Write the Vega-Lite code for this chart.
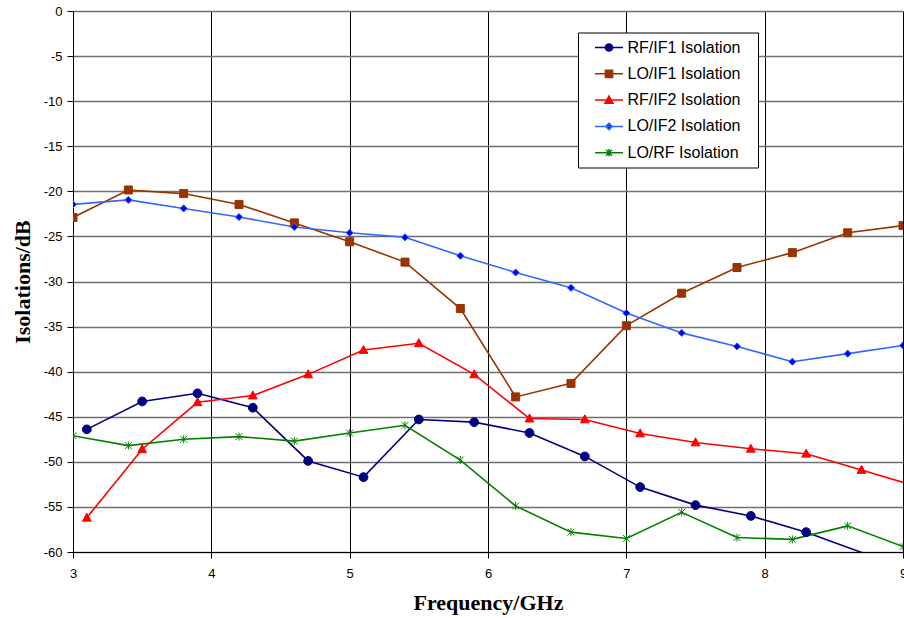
{
  "$schema": "https://vega.github.io/schema/vega-lite/v6.json",
  "width": 830,
  "height": 541,
  "autosize": {"type": "none"},
  "padding": {"left": 73, "top": 11, "right": 1, "bottom": 66},
  "background": "white",
  "config": {
    "view": {"stroke": null},
    "axis": {
      "domainColor": "black",
      "domainWidth": 1,
      "tickColor": "black",
      "tickSize": 6,
      "labelFont": "Liberation Sans",
      "labelFontSize": 13,
      "labelColor": "black",
      "titleFont": "Liberation Serif",
      "titleFontWeight": "bold",
      "titleFontSize": 22,
      "titleColor": "black"
    },
    "legend": {
      "orient": "none",
      "legendX": 505,
      "legendY": 21.5,
      "padding": 6,
      "strokeColor": "black",
      "fillColor": "white",
      "symbolSize": 256,
      "symbolStrokeWidth": 1.5,
      "symbolOpacity": 1,
      "labelFont": "Liberation Sans",
      "labelFontSize": 16,
      "labelColor": "black",
      "labelOffset": 25.5,
      "rowPadding": 9.3,
      "titleOrient": "right",
      "titlePadding": 9,
      "titleFontSize": 8,
      "titleColor": "white",
      "titleBaseline": "top"
    }
  },
  "data": {
    "values": [
      {"series": "RF/IF1 Isolation", "f": 3.1, "iso": -46.4},
      {"series": "RF/IF1 Isolation", "f": 3.5, "iso": -43.3},
      {"series": "RF/IF1 Isolation", "f": 3.9, "iso": -42.4},
      {"series": "RF/IF1 Isolation", "f": 4.3, "iso": -44.0},
      {"series": "RF/IF1 Isolation", "f": 4.7, "iso": -49.9},
      {"series": "RF/IF1 Isolation", "f": 5.1, "iso": -51.7},
      {"series": "RF/IF1 Isolation", "f": 5.5, "iso": -45.3},
      {"series": "RF/IF1 Isolation", "f": 5.9, "iso": -45.6},
      {"series": "RF/IF1 Isolation", "f": 6.3, "iso": -46.8},
      {"series": "RF/IF1 Isolation", "f": 6.7, "iso": -49.4},
      {"series": "RF/IF1 Isolation", "f": 7.1, "iso": -52.8},
      {"series": "RF/IF1 Isolation", "f": 7.5, "iso": -54.8},
      {"series": "RF/IF1 Isolation", "f": 7.9, "iso": -56.0},
      {"series": "RF/IF1 Isolation", "f": 8.3, "iso": -57.8},
      {"series": "RF/IF1 Isolation", "f": 9.1, "iso": -62.3},
      {"series": "LO/IF1 Isolation", "f": 3.0, "iso": -22.9},
      {"series": "LO/IF1 Isolation", "f": 3.4, "iso": -19.85},
      {"series": "LO/IF1 Isolation", "f": 3.8, "iso": -20.25},
      {"series": "LO/IF1 Isolation", "f": 4.2, "iso": -21.45},
      {"series": "LO/IF1 Isolation", "f": 4.6, "iso": -23.5},
      {"series": "LO/IF1 Isolation", "f": 5.0, "iso": -25.6},
      {"series": "LO/IF1 Isolation", "f": 5.4, "iso": -27.85},
      {"series": "LO/IF1 Isolation", "f": 5.8, "iso": -33.0},
      {"series": "LO/IF1 Isolation", "f": 6.2, "iso": -42.8},
      {"series": "LO/IF1 Isolation", "f": 6.6, "iso": -41.3},
      {"series": "LO/IF1 Isolation", "f": 7.0, "iso": -34.9},
      {"series": "LO/IF1 Isolation", "f": 7.4, "iso": -31.3},
      {"series": "LO/IF1 Isolation", "f": 7.8, "iso": -28.45},
      {"series": "LO/IF1 Isolation", "f": 8.2, "iso": -26.8},
      {"series": "LO/IF1 Isolation", "f": 8.6, "iso": -24.6},
      {"series": "LO/IF1 Isolation", "f": 9.0, "iso": -23.8},
      {"series": "RF/IF2 Isolation", "f": 3.1, "iso": -56.2},
      {"series": "RF/IF2 Isolation", "f": 3.5, "iso": -48.6},
      {"series": "RF/IF2 Isolation", "f": 3.9, "iso": -43.4},
      {"series": "RF/IF2 Isolation", "f": 4.3, "iso": -42.65},
      {"series": "RF/IF2 Isolation", "f": 4.7, "iso": -40.3},
      {"series": "RF/IF2 Isolation", "f": 5.1, "iso": -37.6},
      {"series": "RF/IF2 Isolation", "f": 5.5, "iso": -36.85},
      {"series": "RF/IF2 Isolation", "f": 5.9, "iso": -40.3},
      {"series": "RF/IF2 Isolation", "f": 6.3, "iso": -45.2},
      {"series": "RF/IF2 Isolation", "f": 6.7, "iso": -45.3},
      {"series": "RF/IF2 Isolation", "f": 7.1, "iso": -46.85},
      {"series": "RF/IF2 Isolation", "f": 7.5, "iso": -47.85},
      {"series": "RF/IF2 Isolation", "f": 7.9, "iso": -48.55},
      {"series": "RF/IF2 Isolation", "f": 8.3, "iso": -49.1},
      {"series": "RF/IF2 Isolation", "f": 8.7, "iso": -50.9},
      {"series": "RF/IF2 Isolation", "f": 9.1, "iso": -52.75},
      {"series": "LO/IF2 Isolation", "f": 3.0, "iso": -21.45},
      {"series": "LO/IF2 Isolation", "f": 3.4, "iso": -20.95},
      {"series": "LO/IF2 Isolation", "f": 3.8, "iso": -21.9},
      {"series": "LO/IF2 Isolation", "f": 4.2, "iso": -22.85},
      {"series": "LO/IF2 Isolation", "f": 4.6, "iso": -23.95},
      {"series": "LO/IF2 Isolation", "f": 5.0, "iso": -24.6},
      {"series": "LO/IF2 Isolation", "f": 5.4, "iso": -25.1},
      {"series": "LO/IF2 Isolation", "f": 5.8, "iso": -27.15},
      {"series": "LO/IF2 Isolation", "f": 6.2, "iso": -29.0},
      {"series": "LO/IF2 Isolation", "f": 6.6, "iso": -30.7},
      {"series": "LO/IF2 Isolation", "f": 7.0, "iso": -33.5},
      {"series": "LO/IF2 Isolation", "f": 7.4, "iso": -35.7},
      {"series": "LO/IF2 Isolation", "f": 7.8, "iso": -37.2},
      {"series": "LO/IF2 Isolation", "f": 8.2, "iso": -38.9},
      {"series": "LO/IF2 Isolation", "f": 8.6, "iso": -38.0},
      {"series": "LO/IF2 Isolation", "f": 9.0, "iso": -37.1},
      {"series": "LO/RF Isolation", "f": 3.0, "iso": -47.1},
      {"series": "LO/RF Isolation", "f": 3.4, "iso": -48.2},
      {"series": "LO/RF Isolation", "f": 3.8, "iso": -47.5},
      {"series": "LO/RF Isolation", "f": 4.2, "iso": -47.2},
      {"series": "LO/RF Isolation", "f": 4.6, "iso": -47.7},
      {"series": "LO/RF Isolation", "f": 5.0, "iso": -46.8},
      {"series": "LO/RF Isolation", "f": 5.4, "iso": -45.95},
      {"series": "LO/RF Isolation", "f": 5.8, "iso": -49.8},
      {"series": "LO/RF Isolation", "f": 6.2, "iso": -54.9},
      {"series": "LO/RF Isolation", "f": 6.6, "iso": -57.8},
      {"series": "LO/RF Isolation", "f": 7.0, "iso": -58.5},
      {"series": "LO/RF Isolation", "f": 7.4, "iso": -55.6},
      {"series": "LO/RF Isolation", "f": 7.8, "iso": -58.4},
      {"series": "LO/RF Isolation", "f": 8.2, "iso": -58.6},
      {"series": "LO/RF Isolation", "f": 8.6, "iso": -57.1},
      {"series": "LO/RF Isolation", "f": 9.0, "iso": -59.4}
    ]
  },
  "encoding": {
    "x": {
      "field": "f",
      "type": "quantitative",
      "scale": {"domain": [3, 9], "nice": false, "zero": false},
      "axis": {
        "values": [3, 4, 5, 6, 7, 8, 9],
        "grid": true,
        "gridColor": "black",
        "gridWidth": 1,
        "labelPadding": 9,
        "labelFlush": false,
        "labelOverlap": false,
        "title": "Frequency/GHz",
        "titleX": 415,
        "titleY": 50,
        "titleBaseline": "middle",
        "titleAlign": "center"
      }
    },
    "y": {
      "field": "iso",
      "type": "quantitative",
      "scale": {"domain": [-60, 0], "nice": false, "zero": false},
      "axis": {
        "values": [-60, -55, -50, -45, -40, -35, -30, -25, -20, -15, -10, -5, 0],
        "labelExpr": "'' + datum.value",
        "grid": true,
        "gridColor": "#707070",
        "gridWidth": 1.5,
        "labelPadding": 5,
        "labelFlush": false,
        "labelOverlap": false,
        "title": "Isolations/dB",
        "titleX": -51,
        "titleY": 270.5,
        "titleAngle": -90,
        "titleBaseline": "middle",
        "titleAlign": "center"
      }
    }
  },
  "resolve": {"scale": {"shape": "independent", "fill": "independent", "stroke": "independent"}},
  "layer": [
    {
      "mark": {"type": "line", "strokeWidth": 1.6, "clip": true},
      "encoding": {
        "color": {
          "field": "series",
          "type": "nominal",
          "scale": {
            "domain": ["RF/IF1 Isolation", "LO/IF1 Isolation", "RF/IF2 Isolation", "LO/IF2 Isolation", "LO/RF Isolation"],
            "range": ["#000080", "#993300", "#FF0000", "#3366FF", "#008000"]
          },
          "legend": null
        }
      }
    },
    {
      "mark": {"type": "point", "filled": true, "clip": true, "strokeWidth": 1, "opacity": 1, "size": 64},
      "encoding": {
        "shape": {
          "field": "series",
          "type": "nominal",
          "scale": {
            "domain": ["RF/IF1 Isolation", "LO/IF1 Isolation", "RF/IF2 Isolation", "LO/IF2 Isolation", "LO/RF Isolation"],
            "range": [
              "M1.1,0A1.1,1.1,0,1,1,-1.1,0A1.1,1.1,0,1,1,1.1,0Z",
              "M-1,-1H1V1H-1Z",
              "M0,-1.15L1.1,0.85L-1.1,0.85Z",
              "M0,-0.9L0.9,0L0,0.9L-0.9,0Z",
              "M-0.85,-0.85L0.85,0.85M-0.85,0.85L0.85,-0.85M0,-1V1"
            ]
          },
          "legend": null
        },
        "fill": {
          "field": "series",
          "type": "nominal",
          "scale": {
            "domain": ["RF/IF1 Isolation", "LO/IF1 Isolation", "RF/IF2 Isolation", "LO/IF2 Isolation", "LO/RF Isolation"],
            "range": ["#000080", "#993300", "#FF0000", "#0000FF", "#008000"]
          },
          "legend": null
        },
        "stroke": {
          "field": "series",
          "type": "nominal",
          "scale": {
            "domain": ["RF/IF1 Isolation", "LO/IF1 Isolation", "RF/IF2 Isolation", "LO/IF2 Isolation", "LO/RF Isolation"],
            "range": ["#000080", "#993300", "#FF0000", "#3366FF", "#008000"]
          },
          "legend": null
        }
      }
    },
    {
      "mark": {"type": "point", "filled": true, "clip": true, "strokeWidth": 1.5, "opacity": 0, "size": 256},
      "encoding": {
        "shape": {
          "field": "series",
          "type": "nominal",
          "scale": {
            "domain": ["RF/IF1 Isolation", "LO/IF1 Isolation", "RF/IF2 Isolation", "LO/IF2 Isolation", "LO/RF Isolation"],
            "range": [
              "M0.25,0H3.75M2.45,0A0.45,0.45,0,1,1,1.55,0A0.45,0.45,0,1,1,2.45,0Z",
              "M0.25,0H3.75M1.55,-0.45H2.45V0.45H1.55Z",
              "M0.25,0H3.75M2,-0.5L2.5,0.4L1.5,0.4Z",
              "M0.25,0H3.75M2,-0.42L2.42,0L2,0.42L1.58,0Z",
              "M0.25,0H3.75M1.625,-0.375L2.375,0.375M1.625,0.375L2.375,-0.375M2,-0.45V0.45"
            ]
          },
          "legend": {"title": "."}
        },
        "fill": {
          "field": "series",
          "type": "nominal",
          "scale": {
            "domain": ["RF/IF1 Isolation", "LO/IF1 Isolation", "RF/IF2 Isolation", "LO/IF2 Isolation", "LO/RF Isolation"],
            "range": ["#000080", "#993300", "#FF0000", "#0000FF", "#008000"]
          },
          "legend": {"title": "."}
        },
        "stroke": {
          "field": "series",
          "type": "nominal",
          "scale": {
            "domain": ["RF/IF1 Isolation", "LO/IF1 Isolation", "RF/IF2 Isolation", "LO/IF2 Isolation", "LO/RF Isolation"],
            "range": ["#000080", "#993300", "#FF0000", "#3366FF", "#008000"]
          },
          "legend": {"title": "."}
        }
      }
    }
  ]
}
